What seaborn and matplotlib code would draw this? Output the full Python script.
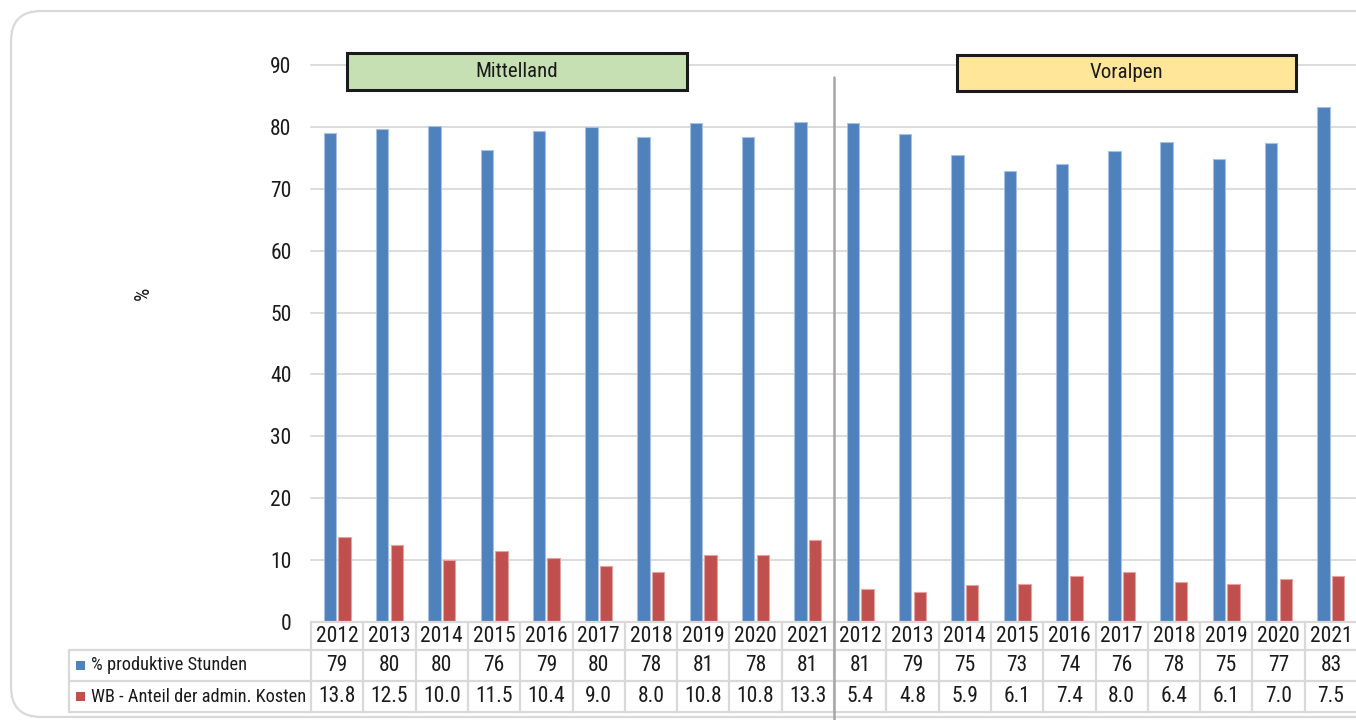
import matplotlib
matplotlib.use("Agg")
import matplotlib.pyplot as plt
import matplotlib.transforms as mtransforms
from matplotlib import font_manager
from matplotlib.patches import FancyBboxPatch, Rectangle
from matplotlib.lines import Line2D
import pandas as pd
import seaborn as sns

# ---- data -------------------------------------------------------------
regions = ["Mittelland", "Voralpen"]
years = [2012, 2013, 2014, 2015, 2016, 2017, 2018, 2019, 2020, 2021]
series_names = ["% produktive Stunden", "WB - Anteil der admin. Kosten"]
series_colors = ["#4F81BD", "#C0504D"]
edge_colors = ["#A7C1E4", "#E3A3A2"]
region_colors = ["#C6E0B4", "#FFE699"]

produktiv_mittelland = [79.0, 79.6, 80.1, 76.3, 79.3, 80.0, 78.4, 80.6, 78.4, 80.8]
produktiv_voralpen = [80.6, 78.8, 75.4, 72.9, 74.0, 76.1, 77.6, 74.8, 77.4, 83.2]
admin_mittelland = [13.8, 12.5, 10.0, 11.5, 10.4, 9.0, 8.0, 10.8, 10.8, 13.3]
admin_voralpen = [5.4, 4.8, 5.9, 6.1, 7.4, 8.0, 6.4, 6.1, 7.0, 7.5]

produktiv = produktiv_mittelland + produktiv_voralpen
admin = admin_mittelland + admin_voralpen
keys = [f"{r} {y}" for r in regions for y in years]
year_labels = [str(y) for _ in regions for y in years]

df = pd.DataFrame({
    "Kategorie": keys * 2,
    "Serie": [series_names[0]] * len(keys) + [series_names[1]] * len(keys),
    "Wert": produktiv + admin,
})

# ---- style ------------------------------------------------------------
sns.set_style("white")


def pick_narrow_font():
    """Return (family, stretch, size_factor) for the narrowest sans available."""
    entries = font_manager.fontManager.ttflist
    names = {f.name for f in entries}
    for nm in ("Liberation Sans Narrow", "Roboto Condensed", "Open Sans Condensed",
               "Noto Sans Condensed", "DejaVu Sans Condensed", "Arial Narrow"):
        if nm in names:
            return nm, "normal", 1.0
    for nm in names:
        if "Condensed" in nm or "Narrow" in nm:
            return nm, "normal", 1.0
    condensed = {"condensed", "semi-condensed", "extra-condensed", "ultra-condensed"}
    for fam in ("Roboto", "Noto Sans", "Open Sans", "DejaVu Sans", "Liberation Sans"):
        for f in entries:
            st = f.stretch
            if f.name == fam and ((isinstance(st, str) and st in condensed)
                                  or (isinstance(st, (int, float)) and st < 500)):
                return fam, "condensed", 1.0
    return "Liberation Sans", "normal", 0.85


font_family, font_stretch, size_factor = pick_narrow_font()
plt.rcParams["font.family"] = [font_family, "DejaVu Sans"]
plt.rcParams["font.stretch"] = font_stretch
plt.rcParams["text.color"] = "#1a1a1a"

W, H = 1356, 720
fig = plt.figure(figsize=(W / 100, H / 100), dpi=100)
fig.patch.set_facecolor("white")


def fx(x):
    return x / W


def fy(y):
    return 1 - y / H


def fs(size):
    return size * size_factor


# outer rounded frame
frame = FancyBboxPatch((11, H - 717), 1420, 706,
                       boxstyle="round,pad=0,rounding_size=30",
                       transform=mtransforms.IdentityTransform(),
                       facecolor="none", edgecolor="#D9D9D9", linewidth=1.6,
                       zorder=0)
fig.patches.append(frame)

plot_left, plot_right, plot_top, plot_bottom = 311, 1357, 65, 622
ax = fig.add_axes([fx(plot_left), fy(plot_bottom),
                   (plot_right - plot_left) / W, (plot_bottom - plot_top) / H])
ax.set_facecolor("none")

sns.barplot(data=df, x="Kategorie", y="Wert", hue="Serie",
            order=keys, hue_order=series_names, palette=series_colors,
            saturation=1, width=0.56, gap=0.15, legend=False, ax=ax, zorder=3)

for cont, ec in zip(ax.containers, edge_colors):
    for bar in cont:
        bar.set_edgecolor(ec)
        bar.set_linewidth(0.8)

ax.set_xlim(-0.5, len(keys) - 0.5)
ax.set_ylim(0, 90)
ax.set_yticks(range(0, 91, 10))
ax.yaxis.grid(True, color="#D9D9D9", linewidth=1.3, zorder=0)
for gl in ax.get_ygridlines():
    gl.set_clip_on(False)
ax.set_axisbelow(True)
for s in ax.spines.values():
    s.set_visible(False)
ax.tick_params(axis="y", length=0, pad=14, labelsize=fs(15.5), labelcolor="#1a1a1a")
ax.tick_params(axis="x", length=0, labelbottom=False)
ax.set_xlabel("")
ax.set_ylabel("")

fig.text(fx(143), fy(293), "%", rotation=90, ha="center", va="center",
         fontsize=fs(15))

# ---- data table below the axis ----------------------------------------
tr = mtransforms.blended_transform_factory(ax.transData, fig.transFigure)
grid_c = "#D9D9D9"
lw_t = 1.6
n = len(keys)

row_top, row1, row2, row_end = 622, 650, 681, 712
# horizontal rules
fig.add_artist(Line2D([-0.5, n - 0.5], [fy(row_top)] * 2, transform=tr,
                      color=grid_c, lw=lw_t))
for yy in (row1, row2, row_end):
    fig.add_artist(Line2D([fx(69), fx(plot_left)], [fy(yy)] * 2,
                          transform=fig.transFigure, color=grid_c, lw=lw_t))
    fig.add_artist(Line2D([-0.5, n - 0.5], [fy(yy)] * 2, transform=tr,
                          color=grid_c, lw=lw_t))
# vertical rules
for i in range(n + 1):
    fig.add_artist(Line2D([i - 0.5] * 2, [fy(row_top), fy(row_end)],
                          transform=tr, color=grid_c, lw=lw_t))
fig.add_artist(Line2D([fx(69)] * 2, [fy(row1), fy(row_end)],
                      transform=fig.transFigure, color=grid_c, lw=lw_t))

nsize = fs(15.5)
for i in range(n):
    fig.text(i, fy((row_top + row1) / 2 + 1), year_labels[i], transform=tr,
             ha="center", va="center", fontsize=nsize)
    fig.text(i, fy((row1 + row2) / 2), f"{produktiv[i]:.0f}", transform=tr,
             ha="center", va="center", fontsize=nsize)
    fig.text(i, fy((row2 + row_end) / 2), f"{admin[i]:.1f}", transform=tr,
             ha="center", va="center", fontsize=nsize)

# legend keys in the row headers
for (ytop, ybot), name, col in zip([(row1, row2), (row2, row_end)],
                                   series_names, series_colors):
    yc = (ytop + ybot) / 2
    fig.add_artist(Rectangle((fx(76), fy(yc + 4.5)), 9 / W, 9 / H,
                             transform=fig.transFigure, facecolor=col,
                             edgecolor="none"))
    fig.text(fx(91), fy(yc), name, ha="left", va="center", fontsize=fs(13.2))

# divider between the two regions
fig.add_artist(Line2D([len(years) - 0.5] * 2, [fy(77), fy(720)], transform=tr,
                      color="#A6A6A6", lw=1.8))

# region headers
for (x0, x1), (y0, y1), name, col in zip([(347, 687), (957, 1296)],
                                         [(53, 90), (55, 91)],
                                         regions, region_colors):
    fig.add_artist(Rectangle((fx(x0), fy(y1)), (x1 - x0) / W, (y1 - y0) / H,
                             transform=fig.transFigure, facecolor=col,
                             edgecolor="#1a1a1a", lw=2.2, zorder=5))
    fig.text(fx((x0 + x1) / 2), fy((y0 + y1) / 2), name, ha="center",
             va="center", fontsize=fs(15), zorder=6)

fig.savefig("out.png", dpi=100, facecolor="white")
